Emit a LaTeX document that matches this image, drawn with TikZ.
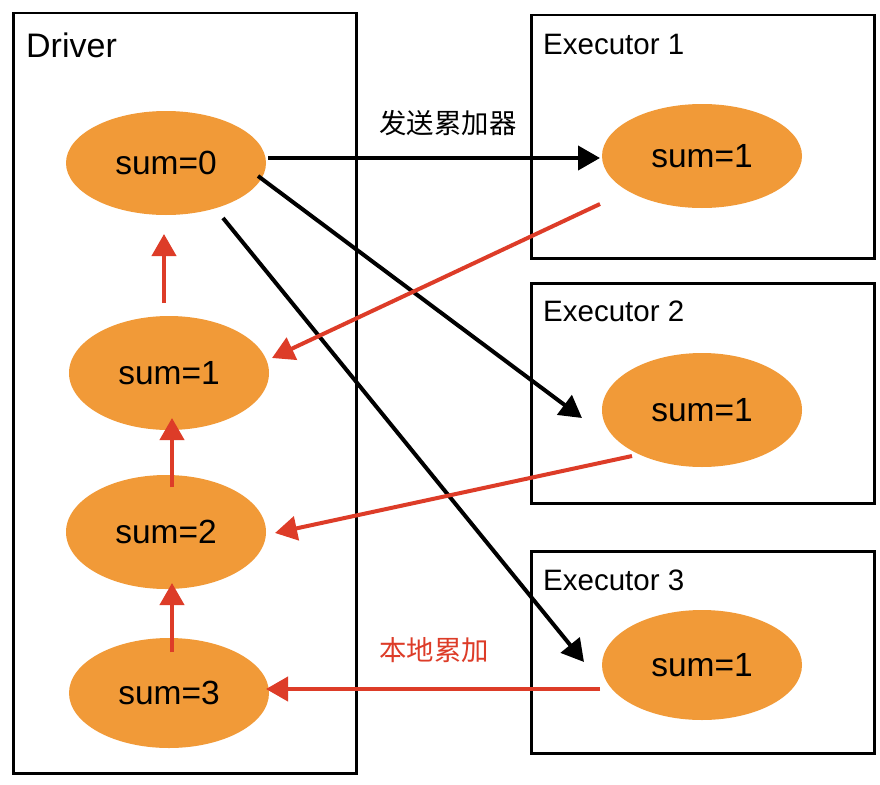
\documentclass[tikz,border=0pt]{standalone}
\usepackage{fontspec}
\setmainfont{Liberation Sans}
\newfontfamily\cjk{Noto Sans CJK SC}
\usetikzlibrary{shapes.geometric,arrows.meta}
\definecolor{orng}{RGB}{241,154,56}
\definecolor{redd}{RGB}{221,60,40}
\tikzset{
  frame/.style={draw=black,line width=2.5pt},
  blob/.style={ellipse,fill=orng,draw=none,minimum width=200pt,minimum height=#1,inner sep=0pt,font=\fontsize{33.5}{38}\selectfont},
  blob/.default=108pt,
  title/.style={anchor=west,inner sep=0pt,font=\fontsize{29.5}{34}\selectfont},
  sendarr/.style={draw=black,line width=4pt,-{Triangle[length=22pt,width=24pt]}},
  backarr/.style={draw=redd,line width=4pt,-{Triangle[length=22pt,width=24pt]}},
}
\begin{document}
\begin{tikzpicture}[x=1pt,y=-1pt]
\useasboundingbox (0,0) rectangle (880,784);
\fill[white] (0,0) rectangle (880,784);
% frames
\node[frame,minimum width=343pt,minimum height=760pt,anchor=north west,inner sep=0pt] (drv) at (12,12) {};
\node[frame,minimum width=343pt,minimum height=243pt,anchor=north west,inner sep=0pt] (ex1) at (530,14) {};
\node[frame,minimum width=343pt,minimum height=220pt,anchor=north west,inner sep=0pt] (ex2) at (530,282) {};
\node[frame,minimum width=343pt,minimum height=202pt,anchor=north west,inner sep=0pt] (ex3) at (530,550) {};
\node[title,font=\fontsize{34}{38}\selectfont] (tdrv) at (26,45) {Driver};
\node[title] (t1) at (543,44) {Executor 1};
\node[title] (t2) at (543,311) {Executor 2};
\node[title] (t3) at (543,580) {Executor 3};
% ellipses
\node[blob=104pt] (d0) at (166,163) {sum=0};
\node[blob=114pt] (d1) at (169,373) {sum=1};
\node[blob=114pt] (d2) at (166,532) {sum=2};
\node[blob=110pt] (d3) at (169,693) {sum=3};
\node[blob=104pt] (e1) at (702,156) {sum=1};
\node[blob=114pt] (e2) at (702,410) {sum=1};
\node[blob=110pt] (e3) at (702,665) {sum=1};
% connector endpoints
\coordinate (s0) at (268,158);
\coordinate (s0e) at (600,158);
\coordinate (s1) at (258,176);
\coordinate (s1e) at (582,418);
\coordinate (s2) at (223,218);
\coordinate (s2e) at (584,662);
\coordinate (r1) at (600,204);
\coordinate (r1e) at (272,358);
\coordinate (r2) at (632,456);
\coordinate (r2e) at (275,533);
\coordinate (r3) at (600,689);
\coordinate (r3e) at (266,689);
\coordinate (u1) at (164,303);
\coordinate (u1e) at (164,234);
\coordinate (u2) at (172,487);
\coordinate (u2e) at (172,418);
\coordinate (u3) at (172,652);
\coordinate (u3e) at (172,583);
% black arrows
\draw[sendarr] (s0) -- (s0e);
\draw[sendarr] (s1) -- (s1e);
\draw[sendarr] (s2) -- (s2e);
% red arrows
\draw[backarr] (r1) -- (r1e);
\draw[backarr] (r2) -- (r2e);
\draw[backarr] (r3) -- (r3e);
\draw[backarr] (u1) -- (u1e);
\draw[backarr] (u2) -- (u2e);
\draw[backarr] (u3) -- (u3e);
% labels
\node[font=\cjk\fontsize{27.4}{31}\selectfont,inner sep=0pt] (lsend) at (448,123) {发送累加器};
\node[font=\cjk\fontsize{27.4}{31}\selectfont,text=redd,inner sep=0pt] (lacc) at (434,650) {本地累加};
\end{tikzpicture}
\end{document}
